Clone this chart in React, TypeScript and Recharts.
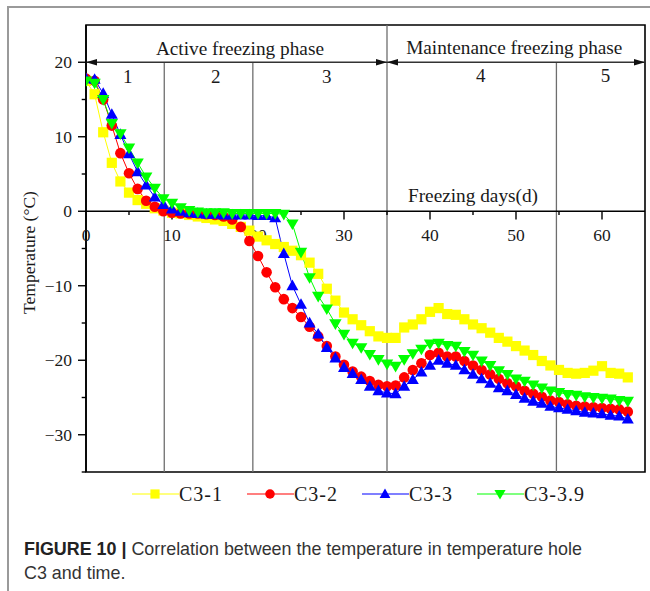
import React from 'react';
import {
  LineChart,
  Line,
  XAxis,
  YAxis,
  ReferenceLine,
  ReferenceDot,
  ReferenceArea,
  Legend,
} from 'recharts';

// ---------- data ----------
const days = [
  0, 1, 2, 3, 4, 5, 6, 7, 8, 9, 10, 11, 12, 13, 14, 15, 16, 17, 18, 19, 20, 21,
  22, 23, 24, 25, 26, 27, 28, 29, 30, 31, 32, 33, 34, 35, 36, 37, 38, 39, 40, 41,
  42, 43, 44, 45, 46, 47, 48, 49, 50, 51, 52, 53, 54, 55, 56, 57, 58, 59, 60, 61,
  62, 63,
];

const c31 = [
  17.5, 15.7, 10.6, 6.5, 4.0, 2.5, 1.5, 1.0, 0.4, 0.1, -0.2, -0.3, -0.5, -0.7,
  -0.9, -1.1, -1.3, -1.7, -2.1, -2.6, -3.4, -3.9, -4.4, -4.8, -5.3, -5.9, -6.9,
  -8.4, -10.4, -12.0, -13.6, -14.5, -15.3, -16.1, -16.8, -17.0, -17.0, -15.6,
  -15.2, -14.5, -13.5, -13.0, -13.8, -13.9, -14.5, -15.2, -15.7, -16.3, -17.0,
  -17.5, -18.1, -18.7, -19.3, -20.1, -20.7, -21.3, -21.7, -21.8, -21.7, -21.4,
  -20.8, -21.7, -21.8, -22.3,
];

const c32 = [
  17.8, 17.5, 15.0, 11.5, 7.8, 5.1, 3.0, 1.4, 0.6, 0.0, -0.2, -0.3, -0.3, -0.3,
  -0.4, -0.5, -0.7, -1.1, -2.1, -4.0, -6.0, -8.2, -10.2, -11.8, -13.0, -14.2,
  -15.5, -16.8, -18.1, -19.5, -20.6, -21.5, -22.2, -22.8, -23.3, -23.5, -23.4,
  -22.3, -21.3, -20.4, -19.3, -19.0, -19.5, -19.5, -20.1, -20.7, -21.3, -21.9,
  -22.5, -23.1, -23.5, -24.1, -24.5, -24.9, -25.4, -25.6, -25.9, -26.1, -26.2,
  -26.3, -26.4, -26.5, -26.6, -26.9,
];

const c33 = [
  17.8, 17.7, 15.8, 13.0, 10.3, 7.7, 5.3, 3.5, 1.9, 0.9, 0.3, 0.0, -0.2, -0.3,
  -0.4, -0.4, -0.5, -0.5, -0.5, -0.5, -0.6, -0.6, -0.9, -5.7, -10.0, -12.5,
  -15.0, -16.5, -18.3, -19.7, -21.0, -21.8, -22.6, -23.5, -24.1, -24.4, -24.5,
  -23.5, -22.6, -21.6, -20.7, -20.0, -20.4, -20.7, -21.3, -21.9, -22.5, -23.1,
  -23.7, -24.1, -24.6, -25.1, -25.5, -25.8, -26.2, -26.4, -26.6, -26.8, -27.0,
  -27.1, -27.2, -27.4, -27.5, -27.9,
];

const c339 = [
  17.5, 17.2, 15.0, 11.8, 10.4, 8.5, 6.5, 4.6, 3.1, 1.7, 1.1, 0.5, 0.1, -0.1,
  -0.2, -0.2, -0.2, -0.3, -0.3, -0.3, -0.3, -0.3, -0.3, -0.4, -1.7, -5.5, -8.9,
  -11.4, -13.1, -15.1, -16.5, -17.7, -18.3, -19.2, -19.9, -20.5, -20.8, -19.9,
  -19.1, -18.5, -17.8, -17.7, -18.0, -18.1, -18.8, -19.3, -20.1, -20.7, -21.4,
  -21.9, -22.5, -22.8, -23.3, -23.7, -24.1, -24.3, -24.6, -24.7, -24.9, -25.0,
  -25.1, -25.2, -25.4, -25.5,
];

const seriesNames = ['C3-1', 'C3-2', 'C3-3', 'C3-3.9'];

const yTicks = [-30, -20, -10, 0, 10, 20];
const yMinorTicks = [-35, -25, -15, -5, 5, 15];
const xTicks = [0, 10, 20, 30, 40, 50, 60];
const xMinorTicks = [5, 15, 25, 35, 45, 55];

// phase boundaries (days) and phase labels
const phaseBoundaries = [9.1, 19.4, 35, 54.7];
const stageNumbers = ['1', '2', '3', '4', '5'];
const phaseNames = ['Active freezing phase', 'Maintenance freezing phase'];

// ---------- layout (annotation anchors in chart units) ----------
const stageAnchors = [
  { x: 4.85, y: 18.1 },
  { x: 15.1, y: 18.1 },
  { x: 28.0, y: 18.1 },
  { x: 45.9, y: 18.2 },
  { x: 60.4, y: 18.2 },
];
const phaseAnchors = [
  { x: 17.9, y: 21.9 },
  { x: 49.8, y: 22.0 },
];
const xLabelAnchor = { x: 45.0, y: 2.15, text: 'Freezing days(d)' };
const xTickLabelY = -3.2;

const data = days.map((d, i) => ({
  day: d,
  c31: c31[i],
  c32: c32[i],
  c33: c33[i],
  c339: c339[i],
}));

const SERIF = '"Liberation Serif", "Times New Roman", serif';
const SANS = '"Liberation Sans", Arial, Helvetica, sans-serif';
const TEXT = '#1a1a1a';

const COLORS = ['#ffff00', '#ff0000', '#0000ff', '#00ff00'];

// ---------- marker shapes ----------
const drawMarker = (kind: number, cx: number, cy: number, color: string, key?: any, scale = 1) => {
  if (kind === 0) {
    const h = 5.1 * scale;
    return <rect key={key} x={cx - h} y={cy - h} width={2 * h} height={2 * h} fill={color} stroke="none" />;
  }
  if (kind === 1) {
    return <circle key={key} cx={cx} cy={cy} r={5.3 * scale} fill={color} stroke="none" />;
  }
  if (kind === 2) {
    const w = 6.0 * scale;
    return (
      <polygon
        key={key}
        points={`${cx},${cy - 6.2 * scale} ${cx - w},${cy + 4.4 * scale} ${cx + w},${cy + 4.4 * scale}`}
        fill={color}
        stroke="none"
      />
    );
  }
  const w = 6.2 * scale;
  return (
    <polygon
      key={key}
      points={`${cx},${cy + 6.2 * scale} ${cx - w},${cy - 4.4 * scale} ${cx + w},${cy - 4.4 * scale}`}
      fill={color}
      stroke="none"
    />
  );
};

const makeDot = (kind: number) => (p: any) => {
  if (p == null || p.cx == null || p.cy == null) return <g key={`n-${kind}-${p?.index}`} />;
  return drawMarker(kind, p.cx, p.cy, COLORS[kind], `m-${kind}-${p.index}`);
};

// ---------- text shapes for ReferenceDot ----------
const textShape =
  (text: string, size: number, anchor: 'middle' | 'start' | 'end' = 'middle') =>
  (p: any) =>
    (
      <text
        x={p.cx}
        y={p.cy}
        textAnchor={anchor}
        dominantBaseline="central"
        fontFamily={SERIF}
        fontSize={size}
        fill={TEXT}
      >
        {text}
      </text>
    );

const arrowShape = (dir: 'left' | 'right') => (p: any) => {
  const { cx, cy } = p;
  const s = dir === 'left' ? 1 : -1;
  return (
    <polygon
      points={`${cx},${cy} ${cx + s * 11},${cy - 3.3} ${cx + s * 11},${cy + 3.3}`}
      fill="#111"
    />
  );
};

// ---------- legend ----------
const LegendContent = (props: any) => {
  const payload = props.payload || [];
  return (
    <div style={{ position: 'relative', height: 0, width: 650 }}>
      <div
        style={{
          position: 'absolute',
          left: 132,
          top: 482,
          height: 24,
          display: 'flex',
          alignItems: 'center',
          whiteSpace: 'nowrap',
        }}
      >
        {payload.map((entry: any, i: number) => (
          <div key={i} style={{ display: 'flex', alignItems: 'center', marginRight: 24 }}>
            <svg width={47} height={20} style={{ display: 'block' }}>
              <line x1={0} y1={10} x2={47} y2={10} stroke={entry.color} strokeWidth={1.2} />
              {drawMarker(i, 23, 10, entry.color, undefined, 0.9)}
            </svg>
            <span
              style={{
                fontFamily: SERIF,
                fontSize: 20,
                letterSpacing: 1,
                color: TEXT,
                lineHeight: '24px',
              }}
            >
              {entry.value}
            </span>
          </div>
        ))}
      </div>
    </div>
  );
};

const YLabel = (props: any) => {
  const vb = props.viewBox || { x: 26, y: 25, width: 60, height: 447 };
  const cx = vb.x + 3;
  const cy = vb.y + vb.height / 2 + 4;
  return (
    <text
      x={cx}
      y={cy}
      transform={`rotate(-90 ${cx} ${cy})`}
      textAnchor="middle"
      dominantBaseline="central"
      fontFamily={SERIF}
      fontSize={17.5}
      fill={TEXT}
    >
      Temperature (°C)
    </text>
  );
};

const fmtY = (v: number) => (v < 0 ? `\u2212${Math.abs(v)}` : String(v));

export default function App() {
  const keys = ['c31', 'c32', 'c33', 'c339'];
  return (
    <div
      style={{
        position: 'absolute',
        left: 0,
        top: 0,
        width: 650,
        height: 591,
        background: '#fff',
        overflow: 'hidden',
      }}
    >
      {/* figure frame */}
      <div
        style={{
          position: 'absolute',
          left: 7,
          top: 6,
          width: 660,
          height: 620,
          borderTop: '2px solid #9a9a9a',
          borderLeft: '2px solid #9a9a9a',
          boxSizing: 'border-box',
        }}
      />
      <div style={{ position: 'absolute', left: 0, top: 0 }}>
        <LineChart
          width={650}
          height={591}
          data={data}
          margin={{ top: 25, right: 5, left: 26, bottom: 119 }}
        >
          <XAxis type="number" dataKey="day" domain={[0, 65]} hide allowDataOverflow />
          <YAxis
            type="number"
            domain={[-35, 25]}
            ticks={yTicks}
            width={60}
            tickSize={8}
            tickMargin={6}
            allowDataOverflow
            interval={0}
            axisLine={{ stroke: '#000', strokeWidth: 1.6 }}
            tickLine={{ stroke: '#000', strokeWidth: 1.4 }}
            tick={{ fontSize: 17.5, fontFamily: SERIF, fill: TEXT }}
            tickFormatter={fmtY}
            label={YLabel}
          />

          {/* plot frame */}
          <ReferenceArea
            x1={0}
            x2={65}
            y1={-35}
            y2={25}
            fill="none"
            fillOpacity={0}
            stroke="#000"
            strokeWidth={1.6}
            ifOverflow="visible"
          />

          {/* minor y ticks */}
          {yMinorTicks.map((v) => (
            <ReferenceLine
              key={`ym${v}`}
              segment={[
                { x: -0.5, y: v },
                { x: 0, y: v },
              ]}
              stroke="#000"
              strokeWidth={1.4}
              ifOverflow="visible"
            />
          ))}

          {/* phase boundary lines */}
          {phaseBoundaries.map((b, i) => (
            <ReferenceLine
              key={`pb${i}`}
              segment={[
                { x: b, y: -35 },
                { x: b, y: b === 35 ? 25 : 20 },
              ]}
              stroke="#6e6e6e"
              strokeWidth={1.3}
              ifOverflow="visible"
            />
          ))}

          {/* phase arrow line */}
          <ReferenceLine y={20} stroke="#333" strokeWidth={1.3} />
          <ReferenceDot x={0} y={20} r={1} shape={arrowShape('left')} ifOverflow="visible" />
          <ReferenceDot x={35} y={20} r={1} shape={arrowShape('right')} ifOverflow="visible" />
          <ReferenceDot x={35} y={20} r={1} shape={arrowShape('left')} ifOverflow="visible" />
          <ReferenceDot x={65} y={20} r={1} shape={arrowShape('right')} ifOverflow="visible" />

          {/* x axis at y = 0 */}
          <ReferenceLine y={0} stroke="#000" strokeWidth={1.6} />
          {xTicks
            .filter((t) => t > 0)
            .map((t) => (
              <ReferenceLine
                key={`xt${t}`}
                segment={[
                  { x: t, y: 0 },
                  { x: t, y: -1.1 },
                ]}
                stroke="#000"
                strokeWidth={1.4}
                ifOverflow="visible"
              />
            ))}
          {xMinorTicks.map((t) => (
            <ReferenceLine
              key={`xm${t}`}
              segment={[
                { x: t, y: 0 },
                { x: t, y: -0.5 },
              ]}
              stroke="#000"
              strokeWidth={1.4}
              ifOverflow="visible"
            />
          ))}
          {xTicks.map((t) => (
            <ReferenceDot
              key={`xl${t}`}
              x={t}
              y={xTickLabelY}
              r={1}
              shape={textShape(String(t), 17.5)}
              ifOverflow="visible"
            />
          ))}

          {/* annotations */}
          {phaseNames.map((n, i) => (
            <ReferenceDot
              key={`pn${i}`}
              x={phaseAnchors[i].x}
              y={phaseAnchors[i].y}
              r={1}
              shape={textShape(n, 19.3)}
              ifOverflow="visible"
            />
          ))}
          {stageNumbers.map((n, i) => (
            <ReferenceDot
              key={`sn${i}`}
              x={stageAnchors[i].x}
              y={stageAnchors[i].y}
              r={1}
              shape={textShape(n, 19)}
              ifOverflow="visible"
            />
          ))}
          <ReferenceDot
            x={xLabelAnchor.x}
            y={xLabelAnchor.y}
            r={1}
            shape={textShape(xLabelAnchor.text, 19.3)}
            ifOverflow="visible"
          />

          {keys.map((k, i) => (
            <Line
              key={k}
              type="linear"
              dataKey={k}
              name={seriesNames[i]}
              stroke={COLORS[i]}
              strokeWidth={1}
              dot={makeDot(i)}
              activeDot={false}
              isAnimationActive={false}
              legendType="line"
            />
          ))}

          <Legend
            verticalAlign="top"
            content={LegendContent}
            wrapperStyle={{ position: 'absolute', left: 0, top: 0, width: 650, height: 0, margin: 0, padding: 0 }}
          />
        </LineChart>
      </div>

      {/* caption */}
      <div
        style={{
          position: 'absolute',
          left: 24,
          top: 537,
          width: 620,
          fontFamily: SANS,
          fontSize: 17.9,
          lineHeight: '24px',
          color: '#333',
          whiteSpace: 'nowrap',
        }}
      >
        <span style={{ fontWeight: 'bold', color: '#222' }}>FIGURE 10 | </span>
        Correlation between the temperature in temperature hole
        <br />
        C3 and time.
      </div>
    </div>
  );
}
